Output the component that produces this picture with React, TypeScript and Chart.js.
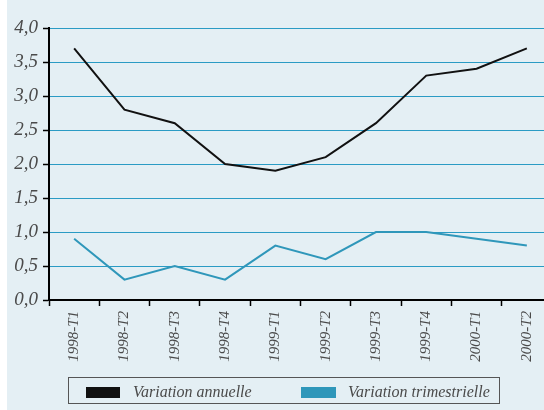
import React, { useEffect, useRef } from "react";
import { Chart, registerables } from "chart.js";

Chart.register(...registerables);

const categories = [
  "1998-T1", "1998-T2", "1998-T3", "1998-T4",
  "1999-T1", "1999-T2", "1999-T3", "1999-T4",
  "2000-T1", "2000-T2",
];
const annualValues = [3.7, 2.8, 2.6, 2.0, 1.9, 2.1, 2.6, 3.3, 3.4, 3.7];
const quarterlyValues = [0.9, 0.3, 0.5, 0.3, 0.8, 0.6, 1.0, 1.0, 0.9, 0.8];
const seriesNames = ["Variation annuelle", "Variation trimestrielle"];
const yMin = 0;
const yMax = 4;
const yStep = 0.5;

const BG = "#e4eff4";
const GRID = "#2a9bc4";
const BLACK = "#111111";
const TEAL = "#2f97ba";
const TEXT = "#4a4a4a";
const FONT = "Liberation Serif, Times New Roman, serif";

export default function App() {
  const ref = useRef<HTMLCanvasElement>(null);

  useEffect(() => {
    const canvas = ref.current;
    if (!canvas) return;
    const chart = new Chart(canvas, {
      type: "line",
      data: {
        labels: categories,
        datasets: [
          {
            label: seriesNames[0],
            data: annualValues,
            borderColor: BLACK,
            backgroundColor: BLACK,
            borderWidth: 2,
            pointRadius: 0,
            tension: 0,
          },
          {
            label: seriesNames[1],
            data: quarterlyValues,
            borderColor: TEAL,
            backgroundColor: TEAL,
            borderWidth: 2,
            pointRadius: 0,
            tension: 0,
          },
        ],
      },
      options: {
        responsive: false,
        animation: false,
        devicePixelRatio: 1,
        layout: { padding: { top: 28, bottom: 40, left: 0, right: 0 } },
        plugins: {
          legend: { display: false },
          tooltip: { enabled: false },
        },
        scales: {
          x: {
            type: "category",
            offset: true,
            grid: {
              offset: true,
              drawOnChartArea: false,
              drawTicks: true,
              tickLength: 6,
              tickColor: "#000",
              tickWidth: 1.5,
            },
            border: { display: true, color: "#000", width: 2 },
            ticks: {
              autoSkip: false,
              minRotation: 90,
              maxRotation: 90,
              padding: 5,
              color: TEXT,
              font: { family: FONT, style: "italic", size: 15 },
            },
            afterFit: (s: any) => {
              s.height = 70;
            },
          },
          y: {
            min: yMin,
            max: yMax,
            ticks: {
              stepSize: yStep,
              padding: 5,
              color: TEXT,
              font: { family: FONT, style: "italic", size: 19 },
              callback: (v: any) => Number(v).toFixed(1).replace(".", ","),
            },
            grid: {
              color: (ctx: any) => (ctx.tick && ctx.tick.value === 0 ? "rgba(0,0,0,0)" : GRID),
              lineWidth: 1,
              tickColor: "#000",
              tickLength: 6,
              tickWidth: 1.5,
            },
            border: { display: true, color: "#000", width: 2 },
            afterFit: (s: any) => {
              s.width = 42;
            },
          },
        },
      },
    });
    return () => chart.destroy();
  }, []);

  const legendText: React.CSSProperties = {
    position: "absolute",
    top: 382,
    fontFamily: FONT,
    fontStyle: "italic",
    fontSize: 16,
    lineHeight: "20px",
    color: TEXT,
    whiteSpace: "nowrap",
  };

  return (
    <div
      style={{
        position: "fixed",
        left: 7,
        top: 0,
        width: 537,
        height: 410,
        overflow: "hidden",
        background: BG,
      }}
    >
      <canvas ref={ref} width={545} height={410} style={{ position: "absolute", left: 0, top: 0, width: 545, height: 410 }} />
      <div
        style={{
          position: "absolute",
          left: 61,
          top: 377,
          width: 432,
          height: 27,
          border: "1px solid #555",
          boxSizing: "border-box",
        }}
      />
      <div style={{ position: "absolute", left: 79, top: 387, width: 34, height: 11, background: BLACK }} />
      <div style={{ ...legendText, left: 126 }}>{seriesNames[0]}</div>
      <div style={{ position: "absolute", left: 294, top: 387, width: 35, height: 11, background: TEAL }} />
      <div style={{ ...legendText, left: 341 }}>{seriesNames[1]}</div>
    </div>
  );
}
